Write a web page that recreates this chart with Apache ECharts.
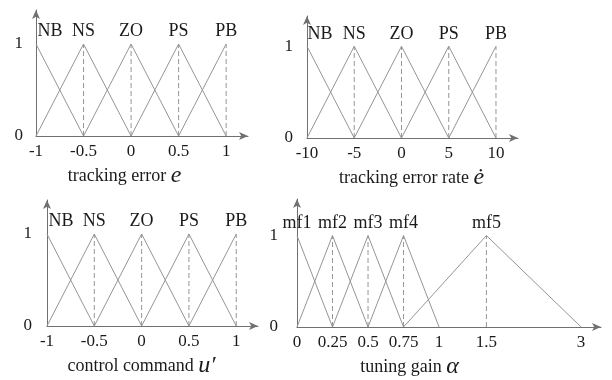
<!DOCTYPE html>
<html>
<head>
<meta charset="utf-8">
<script src="https://cdn.jsdelivr.net/npm/echarts@6/dist/echarts.min.js"></script>
<style>
  html, body { margin: 0; padding: 0; background: #fff; }
  #chart { width: 612px; height: 380px; }
</style>
</head>
<body>
<div id="chart"></div>
<script>
// Membership function sets: each entry is [left foot, peak, right foot].
const errNames = ['NB', 'NS', 'ZO', 'PS', 'PB'];
const errMF = [[-1, -1, -0.5], [-1, -0.5, 0], [-0.5, 0, 0.5], [0, 0.5, 1], [0.5, 1, 1]];
const errTicks = [-1, -0.5, 0, 0.5, 1];

const rateNames = ['NB', 'NS', 'ZO', 'PS', 'PB'];
const rateMF = [[-10, -10, -5], [-10, -5, 0], [-5, 0, 5], [0, 5, 10], [5, 10, 10]];
const rateTicks = [-10, -5, 0, 5, 10];

const cmdNames = ['NB', 'NS', 'ZO', 'PS', 'PB'];
const cmdMF = [[-1, -1, -0.5], [-1, -0.5, 0], [-0.5, 0, 0.5], [0, 0.5, 1], [0.5, 1, 1]];
const cmdTicks = [-1, -0.5, 0, 0.5, 1];

const gainNames = ['mf1', 'mf2', 'mf3', 'mf4', 'mf5'];
const gainMF = [[0, 0, 0.25], [0, 0.25, 0.5], [0.25, 0.5, 0.75], [0.5, 0.75, 1], [0.75, 1.5, 3]];
const gainTicks = [0, 0.25, 0.5, 0.75, 1, 1.5, 3];

const gradeTicks = [0, 1];

// The gain axis is compressed beyond 1: piecewise-linear display scale.
const gainScaleIn = [0, 1, 1.5, 3];
const gainScaleOut = [0, 1, 4 / 3, 2];
function warpGain(a) {
  for (let i = 1; i < gainScaleIn.length; i++) {
    if (a <= gainScaleIn[i]) {
      const t = (a - gainScaleIn[i - 1]) / (gainScaleIn[i] - gainScaleIn[i - 1]);
      return gainScaleOut[i - 1] + t * (gainScaleOut[i] - gainScaleOut[i - 1]);
    }
  }
  return gainScaleOut[gainScaleOut.length - 1];
}
const identity = v => v;

const SERIF = '"Liberation Serif", "DejaVu Serif", serif';
const LINE = '#959595';
const AXIS = '#707070';
const TEXT = '#1a1a1a';

const panels = [
  { names: errNames, mf: errMF, ticks: errTicks, warp: identity,
    grid: { left: 36, top: 10, width: 212, height: 126 }, xMax: 1.23, yMax: 1.37,
    yMargin: 13, firstOffset: 14, nameShift: 35, nameGap: 28,
    title: 'tracking error ', sym: 'e' },
  { names: rateNames, mf: rateMF, ticks: rateTicks, warp: identity,
    grid: { left: 307, top: 16, width: 211, height: 122 }, xMax: 12.33, yMax: 1.33,
    yMargin: 14, firstOffset: 13, nameShift: 2, nameGap: 28,
    title: 'tracking error rate ', sym: 'ė' },
  { names: cmdNames, mf: cmdMF, ticks: cmdTicks, warp: identity,
    grid: { left: 47, top: 200, width: 211, height: 126 }, xMax: 1.23, yMax: 1.37,
    yMargin: 15, firstOffset: 14, nameShift: 22, nameGap: 28,
    title: 'control command ', sym: 'u′' },
  { names: gainNames, mf: gainMF, ticks: gainTicks, warp: warpGain,
    grid: { left: 297, top: 199, width: 304, height: 129 }, xMax: 2.14, yMax: 1.40,
    yMargin: 19, firstOffset: 0, nameShift: 79, nameGap: 28,
    title: 'tuning gain ', sym: 'α' }
];

const grids = [], xAxes = [], yAxes = [], series = [];

panels.forEach((p, gi) => {
  grids.push(Object.assign({ containLabel: false }, p.grid));
  const xMin = p.warp(p.ticks[0]);
  const tickPos = p.ticks.map(p.warp);

  xAxes.push({
    gridIndex: gi, type: 'value', min: xMin, max: p.xMax,
    axisLine: { show: true, onZero: false, symbol: ['none', 'arrow'], symbolSize: [6, 9],
      lineStyle: { color: AXIS, width: 1 } },
    axisTick: { show: false },
    splitLine: { show: false },
    axisLabel: {
      customValues: tickPos, margin: 7,
      color: TEXT, fontFamily: SERIF, fontSize: 17,
      formatter: v => {
        const i = tickPos.findIndex(t => Math.abs(t - v) < 1e-6);
        return i >= 0 ? String(p.ticks[i]) : '';
      }
    },
    name: p.title + '{m|' + p.sym + '}',
    nameLocation: 'middle', nameGap: p.nameGap,
    nameTextStyle: {
      color: TEXT, fontFamily: SERIF, fontSize: 18,
      padding: [0, p.nameShift, 0, 0],
      rich: { m: { fontFamily: SERIF, fontStyle: 'italic', fontSize: 24, color: TEXT } }
    }
  });

  yAxes.push({
    gridIndex: gi, type: 'value', min: 0, max: p.yMax,
    axisLine: { show: true, onZero: false, symbol: ['none', 'arrow'], symbolSize: [6, 9],
      lineStyle: { color: AXIS, width: 1 } },
    axisTick: { show: false },
    splitLine: { show: false },
    axisLabel: { customValues: gradeTicks, margin: p.yMargin, color: TEXT,
      fontFamily: SERIF, fontSize: 17, padding: [0, 0, 4, 0] }
  });

  p.mf.forEach(([a, b, c], k) => {
    const pts = [];
    if (a < b) pts.push([p.warp(a), 0]);
    pts.push({
      value: [p.warp(b), 1],
      symbol: 'circle', symbolSize: 1,
      itemStyle: { color: 'rgba(0,0,0,0)' },
      label: {
        show: true, position: 'top', distance: 3,
        offset: [k === 0 ? p.firstOffset : 0, 0],
        formatter: p.names[k], color: TEXT, fontFamily: SERIF, fontSize: 18
      }
    });
    if (c > b) pts.push([p.warp(c), 0]);
    series.push({
      type: 'line', xAxisIndex: gi, yAxisIndex: gi, data: pts,
      showSymbol: true, symbol: 'none', silent: true, animation: false,
      lineStyle: { color: LINE, width: 1 }
    });
    // dashed drop line from every peak that is not on the vertical axis
    if (p.warp(b) > xMin) {
      series.push({
        type: 'line', xAxisIndex: gi, yAxisIndex: gi,
        data: [[p.warp(b), 0], [p.warp(b), 1]],
        showSymbol: false, symbol: 'none', silent: true, animation: false,
        lineStyle: { color: LINE, width: 1, type: [5, 3] }
      });
    }
  });
});

const chart = echarts.init(document.getElementById('chart'), null, { renderer: 'canvas' });
chart.setOption({
  backgroundColor: '#fff',
  animation: false,
  grid: grids, xAxis: xAxes, yAxis: yAxes, series: series
});
</script>
</body>
</html>
